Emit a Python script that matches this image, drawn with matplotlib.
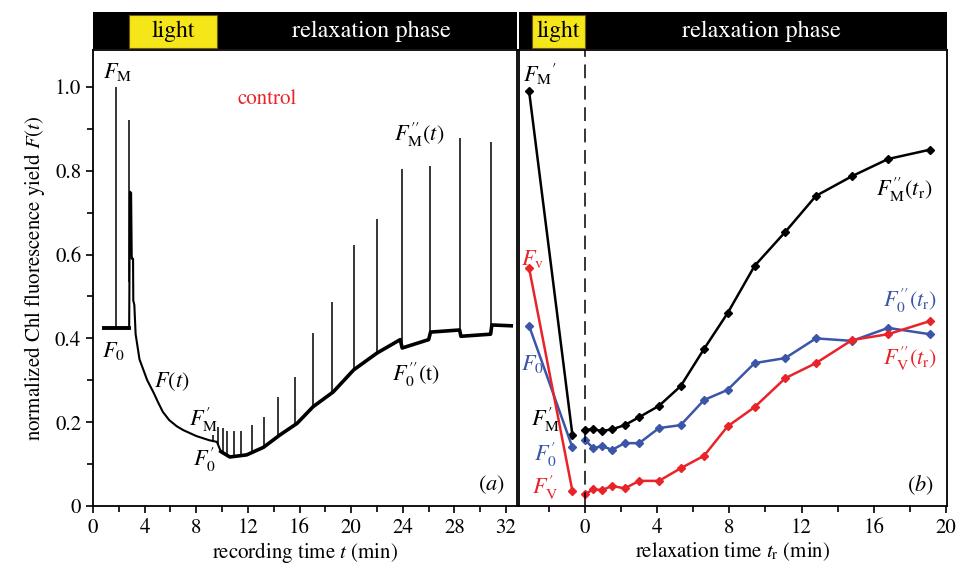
import numpy as np
import matplotlib
matplotlib.use('Agg')
import matplotlib.pyplot as plt
from matplotlib.patches import Rectangle

plt.rcParams['font.family'] = ['STIXGeneral', 'DejaVu Serif']
plt.rcParams['mathtext.fontset'] = 'stix'

# ---- panel (a): recorded trace F(t) (without the saturation pulses) ----
trace_t = [0.85, 2.80, 2.86, 2.95, 3.0, 3.1, 3.12, 3.2, 3.3,
           3.45, 3.6, 3.9, 4.2, 4.7, 5.0, 5.4, 5.9, 6.5, 7.0, 7.5, 8.0, 8.5, 9.0, 9.6,
           9.9, 10.6, 11.9, 13.2, 14.5,
           15.8, 16.05, 17.05, 18.6, 20.2, 22.0, 23.8, 23.95, 26.0, 26.15, 28.4,
           28.5, 30.8, 30.9, 32.4]
trace_f = [0.425, 0.425, 0.75, 0.747, 0.59, 0.59, 0.49, 0.48, 0.41,
           0.38, 0.35, 0.325, 0.30, 0.27, 0.25, 0.225, 0.205, 0.19, 0.181, 0.174, 0.167, 0.162,
           0.157, 0.153,
           0.13, 0.117, 0.122, 0.14, 0.17,
           0.197, 0.205, 0.237, 0.272, 0.325, 0.365, 0.397, 0.377, 0.397, 0.415, 0.42,
           0.405, 0.41, 0.432, 0.43]

# saturation pulses
spike_t = [1.8, 2.82, 9.33, 9.7, 10.05, 10.36, 10.9, 11.5, 12.3, 13.26, 14.3, 15.66,
           17.08, 18.5, 20.2, 22.0, 23.9, 26.1, 28.45, 30.85]
spike_top = [1.0, 0.92, 0.17, 0.188, 0.185, 0.18, 0.18, 0.18, 0.193, 0.212, 0.26, 0.308,
             0.413, 0.487, 0.623, 0.685, 0.804, 0.811, 0.878, 0.869]

# ---- panel (b): values vs relaxation time ----
pre_t = [-3.1, -0.7]
pre_fm = [0.99, 0.17]
pre_f0 = [0.43, 0.14]
pre_fv = [0.568, 0.036]

tr = [0, 0.45, 0.95, 1.5, 2.2, 3.0, 4.1, 5.3, 6.6, 7.9, 9.4, 11.1, 12.8, 14.8, 16.8, 19.1]
fm_tr = [0.182, 0.183, 0.179, 0.183, 0.193, 0.212, 0.239, 0.286, 0.375, 0.46,
         0.573, 0.654, 0.74, 0.787, 0.828, 0.85]
f0_tr = [0.158, 0.138, 0.143, 0.134, 0.15, 0.15, 0.186, 0.193, 0.253, 0.277,
         0.341, 0.353, 0.40, 0.394, 0.425, 0.41]
fv_tr = [0.028, 0.04, 0.038, 0.048, 0.042, 0.06, 0.06, 0.09, 0.12, 0.19,
         0.236, 0.305, 0.341, 0.396, 0.41, 0.441]

red = '#e8232a'
blue = '#3b55a8'
yellow = '#f5e61a'

fig = plt.figure(figsize=(9.6, 5.71), dpi=100)
ax1 = fig.add_axes([0.0969, 0.1138, 0.4417, 0.7986])
ax2 = fig.add_axes([0.5406, 0.1138, 0.4458, 0.7986])
bar1 = fig.add_axes([0.0969, 0.9142, 0.4417, 0.0648])
bar2 = fig.add_axes([0.5406, 0.9142, 0.4458, 0.0648])

# trace: thin during the light decay, thicker (noisy) before and after
tt = np.array(trace_t)
ff = np.array(trace_f)
ax1.plot(tt, ff, color='black', lw=1.5)
ax1.plot(tt[tt <= 2.8], ff[tt <= 2.8], color='black', lw=2.8)
ax1.plot(tt[tt >= 9.9], ff[tt >= 9.9], color='black', lw=2.6)
base = np.interp(spike_t, trace_t, trace_f)
ax1.vlines(spike_t, base, spike_top, color='black', lw=1.1)

ax1.set_xlim(0, 32.85)
ax1.set_ylim(0, 1.088)
ax1.set_xticks(np.arange(0, 33, 4))
ax1.set_xticks(np.arange(2, 33, 4), minor=True)
ax1.set_yticks(np.arange(0, 1.01, 0.2))
ax1.set_yticklabels(['0', '0.2', '0.4', '0.6', '0.8', '1.0'])
ax1.set_yticks(np.arange(0.1, 1.05, 0.2), minor=True)
ax1.set_xlabel(r'recording time $t$ (min)', fontsize=15, labelpad=2)
ax1.set_ylabel(r'normalized Chl fluorescence yield $F(t)$', fontsize=15, labelpad=6)

ax1.text(1.9, 1.035, r'$F_{\mathrm{M}}$', fontsize=16, ha='center', va='center')
ax1.text(13.5, 0.97, 'control', color=red, fontsize=15, ha='center', va='center')
ax1.text(1.6, 0.37, r'$F_{0}$', fontsize=16, ha='center', va='center')
ax1.text(6.1, 0.296, r'$F(t)$', fontsize=16, ha='center', va='center')
ax1.text(8.6, 0.205, r'$F^{\prime}_{\mathrm{M}}$', fontsize=16, ha='center', va='center')
ax1.text(8.6, 0.11, r'$F^{\prime}_{0}$', fontsize=16, ha='center', va='center')
ax1.text(25.3, 0.885, r'$F^{\prime\prime}_{\mathrm{M}}(t)$', fontsize=16, ha='center', va='center')
ax1.text(25.0, 0.313, r'$F^{\prime\prime}_{0}$(t)', fontsize=16, ha='center', va='center')
ax1.text(30.9, 0.05, r'$(a)$', fontsize=16, ha='center', va='center')

# panel b
mk = dict(marker='D', markersize=4.5, lw=1.8)
ax2.plot(pre_t, pre_fm, color='black', **mk)
ax2.plot(pre_t, pre_f0, color=blue, **mk)
ax2.plot(pre_t, pre_fv, color=red, **mk)
ax2.plot(tr, fm_tr, color='black', **mk)
ax2.plot(tr, f0_tr, color=blue, **mk)
ax2.plot(tr, fv_tr, color=red, **mk)
ax2.axvline(0, color='black', lw=1.1, dashes=(9, 5))

ax2.set_xlim(-3.66, 20.06)
ax2.set_ylim(0, 1.088)
ax2.set_xticks(np.arange(0, 21, 4))
ax2.set_xticks(np.arange(-2, 21, 2), minor=True)
ax2.set_yticks([])
ax2.set_xlabel(r'relaxation time $t_{\mathrm{r}}$ (min)', fontsize=15, labelpad=2)

ax2.text(-2.5, 1.03, r'$F_{\mathrm{M}}{}^{\prime}$', fontsize=16, ha='center', va='center')
ax2.text(-2.9, 0.59, r'$F_{\mathrm{v}}$', fontsize=16, ha='center', va='center', color=red)
ax2.text(-2.9, 0.34, r'$F_{0}$', fontsize=16, ha='center', va='center', color=blue)
ax2.text(-2.2, 0.205, r'$F^{\prime}_{\mathrm{M}}$', fontsize=16, ha='center', va='center')
ax2.text(-2.2, 0.122, r'$F^{\prime}_{0}$', fontsize=16, ha='center', va='center', color=blue)
ax2.text(-2.2, 0.043, r'$F^{\prime}_{\mathrm{V}}$', fontsize=16, ha='center', va='center', color=red)
ax2.text(17.7, 0.754, r'$F^{\prime\prime}_{\mathrm{M}}(t_{\mathrm{r}})$', fontsize=16, ha='center', va='center')
ax2.text(18.0, 0.49, r'$F^{\prime\prime}_{0}(t_{\mathrm{r}})$', fontsize=16, ha='center', va='center', color=blue)
ax2.text(18.0, 0.35, r'$F^{\prime\prime}_{\mathrm{V}}(t_{\mathrm{r}})$', fontsize=16, ha='center', va='center', color=red)
ax2.text(18.6, 0.05, r'$(b)$', fontsize=16, ha='center', va='center')

for ax in (ax1, ax2):
    for s in ax.spines.values():
        s.set_linewidth(1.3)
    ax.tick_params(which='major', direction='out', length=5, width=1.2, labelsize=15)
    ax.tick_params(which='minor', direction='out', length=4, width=1.2)

# top bars
for bar, ax, x0, x1, xr in ((bar1, ax1, 2.8, 9.6, 21.6), (bar2, ax2, -2.94, 0.0, 9.8)):
    bar.set_facecolor('black')
    bar.set_xlim(ax.get_xlim())
    bar.set_ylim(0, 1)
    bar.set_xticks([])
    bar.set_yticks([])
    for s in bar.spines.values():
        s.set_visible(False)
    bar.add_patch(Rectangle((x0, 0.03), x1 - x0, 0.9, facecolor=yellow, edgecolor='#6b5a10', lw=0.8))
    bar.text((x0 + x1) / 2, 0.48, 'light', fontsize=17, ha='center', va='center')
    bar.text(xr, 0.48, 'relaxation phase', fontsize=17.5, ha='center', va='center', color='white')

fig.savefig('out.png', dpi=100)
